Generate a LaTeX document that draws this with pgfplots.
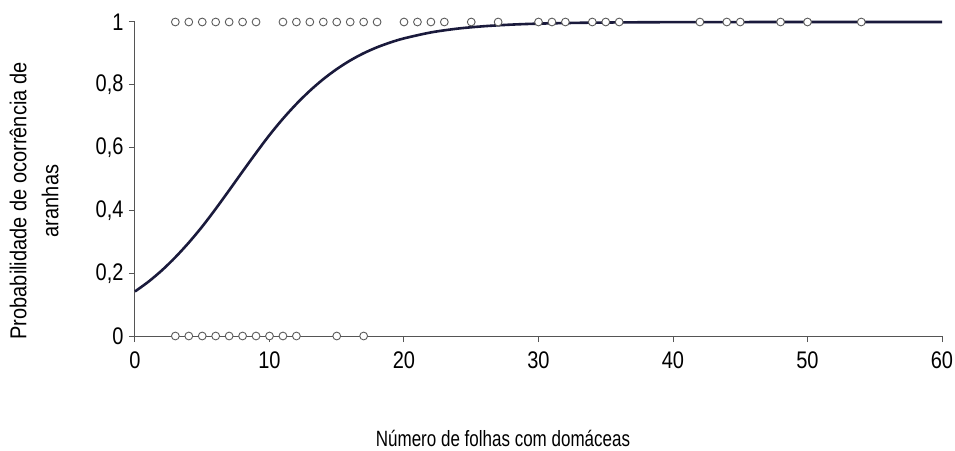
\documentclass[border=0pt]{standalone}
\usepackage{fontspec}
\setmainfont{Liberation Sans}
\usepackage{graphicx}
\usepackage{pgfplots}
\pgfplotsset{compat=1.18}
\definecolor{curve}{HTML}{1A1A3C}
\definecolor{axisgray}{HTML}{555555}
\definecolor{markgray}{HTML}{5A5A5A}
\begin{document}
\begin{tikzpicture}
\path[use as bounding box] (-135pt,-114pt) rectangle (820pt,336pt);
\begin{axis}[
  at={(0,0)}, anchor=south west,
  scale only axis, width=807pt, height=314pt,
  xmin=0, xmax=60, ymin=0, ymax=1,
  axis x line=bottom, axis y line=left,
  axis line style={-, axisgray, line width=1pt},
  xtick={0,10,...,60}, ytick={0,0.2,...,1},
  tick align=outside, major tick length=6pt,
  tick style={axisgray, line width=1pt},
  clip=false,
  /pgf/number format/assume math mode=true,
  /pgf/number format/use comma,
  ticklabel style={font=\fontsize{20}{24}\selectfont},
  xticklabel={\scalebox{1}[1.2]{\pgfmathprintnumber{\tick}}},
  yticklabel={\scalebox{1}[1.2]{\pgfmathprintnumber{\tick}}},
  yticklabel style={xshift=-2pt},
  xticklabel style={yshift=-6pt},
  xlabel={\scalebox{1}[1.3]{Número de folhas com domáceas}},
  xlabel style={at={(axis description cs:0.456,-0.325)}, anchor=center, font=\fontsize{17}{22}\selectfont},
  ylabel={\scalebox{1}[1.15]{Probabilidade de ocorrência de}\\\scalebox{1}[1.15]{aranhas}},
  ylabel style={at={(axis description cs:-0.125,0.43)}, anchor=center, align=center, font=\fontsize{20}{32}\selectfont},
]
\addplot[curve, line width=2.6pt, smooth] coordinates {
(0,0.1419) (1,0.1729) (2,0.2091) (3,0.2507) (4,0.2974) (5,0.3487) (6,0.4050) (7,0.4640) (8,0.5240) (9,0.5830) (10,0.6400) (11,0.6920) (12,0.7390) (13,0.7810) (14,0.8180) (15,0.8500) (16,0.8775) (17,0.9005) (18,0.9195) (19,0.9350) (20,0.9478) (22,0.9668) (24,0.9790) (26,0.9867) (28,0.9917) (30,0.9948) (33,0.9974) (36,0.9987) (40,0.9995) (45,0.9998) (50,1) (60,1)
};
\addplot[only marks, mark=*, mark size=3.9pt, mark options={draw=markgray, fill=white, line width=0.9pt}] coordinates {
(3,1) (4,1) (5,1) (6,1) (7,1) (8,1) (9,1)
(11,1) (12,1) (13,1) (14,1) (15,1) (16,1) (17,1) (18,1)
(20,1) (21,1) (22,1) (23,1) (25,1) (27,1) (30,1) (31,1) (32,1) (34,1) (35,1) (36,1)
(42,1) (44,1) (45,1) (48,1) (50,1) (54,1)
(3,0) (4,0) (5,0) (6,0) (7,0) (8,0) (9,0) (10,0) (11,0) (12,0) (15,0) (17,0)
};
\end{axis}
\end{tikzpicture}
\end{document}
